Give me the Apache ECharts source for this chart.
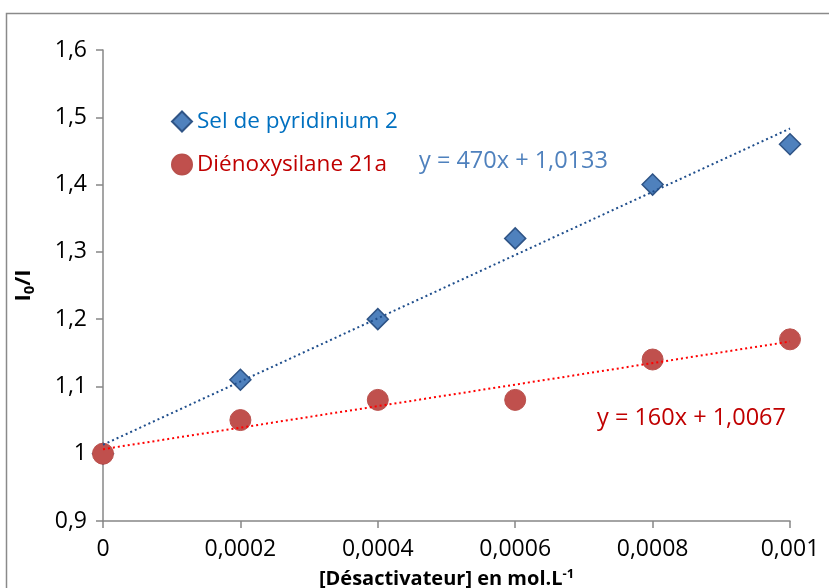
<!DOCTYPE html>
<html>
<head>
<meta charset="utf-8">
<script src="https://cdn.jsdelivr.net/npm/echarts@6/dist/echarts.min.js"></script>
<style>
  html, body { margin: 0; padding: 0; background: #fff; }
  #chart { width: 829px; height: 588px; }
</style>
</head>
<body>
<div id="chart"></div>
<script>
// concentrations du désactivateur (mol.L-1)
var concentrations = [0, 0.0002, 0.0004, 0.0006, 0.0008, 0.001];
var pyridinium = [1.0, 1.11, 1.20, 1.32, 1.40, 1.46];
var dienoxysilane = [1.0, 1.05, 1.08, 1.08, 1.14, 1.17];
// courbes de tendance (extrémités)
var trendX = [0, 0.001];
var trendPyridinium = [1.0133, 1.4833];
var trendDienoxysilane = [1.0067, 1.1667];

var seriesNames = ['Sel de pyridinium 2', 'Diénoxysilane 21a'];
var equations = ['y = 470x + 1,0133', 'y = 160x + 1,0067'];

var FONT = "'Open Sans', sans-serif";
var axisGrey = '#878787';

function pairs(xs, ys) {
    return xs.map(function(x, i) { return [x, ys[i]]; });
}

function frNum(v, digits) {
    var s = (+v.toFixed(digits)).toString();
    return s.replace('.', ',');
}

var chart = echarts.init(document.getElementById('chart'));

var option = {
    animation: false,
    grid: { left: 103, right: 39, top: 50, bottom: 67, containLabel: false, outerBoundsMode: 'none' },
    legend: {
        orient: 'vertical',
        left: 166,
        top: 105,
        itemGap: 20,
        itemWidth: 20,
        itemHeight: 20,
        textStyle: { fontFamily: FONT, fontSize: 22.5 },
        data: [
            { name: seriesNames[0], icon: 'diamond', textStyle: { color: '#0070C0' } },
            { name: seriesNames[1], icon: 'circle', textStyle: { color: '#C00000' } }
        ]
    },
    xAxis: {
        type: 'value',
        min: 0,
        max: 0.001,
        interval: 0.0002,
        splitLine: { show: false },
        axisLine: { onZero: false, lineStyle: { color: axisGrey, width: 1.5 } },
        axisTick: { show: true, length: 7, lineStyle: { color: axisGrey, width: 1.5 } },
        axisLabel: {
            color: '#000', fontFamily: FONT, fontSize: 23, margin: 17,
            formatter: function(v) { return frNum(v, 4); }
        },
        name: '[Désactivateur] en mol.L{sup|-1}',
        nameLocation: 'middle',
        nameGap: 47,
        nameTextStyle: {
            color: '#000', fontFamily: FONT, fontSize: 20, fontWeight: 'bold',
            rich: { sup: { fontFamily: FONT, fontSize: 13, fontWeight: 'bold', verticalAlign: 'top', padding: [0, 0, 10, 0] } }
        }
    },
    yAxis: {
        type: 'value',
        min: 0.9,
        max: 1.6,
        interval: 0.1,
        splitLine: { show: false },
        axisLine: { show: true, lineStyle: { color: axisGrey, width: 1.5 } },
        axisTick: { show: true, length: 7, lineStyle: { color: axisGrey, width: 1.5 } },
        axisLabel: {
            color: '#000', fontFamily: FONT, fontSize: 23, margin: 16,
            formatter: function(v) { return frNum(v, 1); }
        },
        name: 'I{sub|0}/I',
        nameLocation: 'middle',
        nameRotate: 90,
        nameGap: 66,
        nameTextStyle: {
            color: '#000', fontFamily: FONT, fontSize: 22, fontWeight: 'bold',
            rich: { sub: { fontFamily: FONT, fontSize: 15, fontWeight: 'bold', padding: [12, 0, 0, 0] } }
        }
    },
    series: [
        {
            name: seriesNames[0],
            type: 'scatter',
            symbol: 'diamond',
            symbolSize: 21,
            z: 2,
            itemStyle: { color: '#4F81BD', borderColor: '#2F5486', borderWidth: 1.5, opacity: 1 },
            data: pairs(concentrations, pyridinium)
        },
        {
            name: seriesNames[1],
            type: 'scatter',
            symbol: 'circle',
            symbolSize: 21,
            z: 3,
            itemStyle: { color: '#C0504D', borderColor: '#B9504C', borderWidth: 1, opacity: 1 },
            data: pairs(concentrations, dienoxysilane)
        },
        {
            name: 'tendance 1',
            type: 'line',
            showSymbol: false,
            silent: true,
            z: 4,
            lineStyle: { color: '#1F4E8C', width: 2, type: [2, 3] },
            data: pairs(trendX, trendPyridinium)
        },
        {
            name: 'tendance 2',
            type: 'line',
            showSymbol: false,
            silent: true,
            z: 4,
            lineStyle: { color: '#FF0000', width: 2, type: [2, 3] },
            data: pairs(trendX, trendDienoxysilane)
        }
    ],
    graphic: [
        {
            type: 'rect',
            shape: { x: 6.5, y: 13.5, width: 900, height: 700 },
            style: { fill: 'none', stroke: '#8a8a8a', lineWidth: 1.5 },
            z: -1
        },
        {
            type: 'text',
            left: 419,
            top: 149,
            style: { text: equations[0], fill: '#4F81BD', font: '23.5px ' + FONT }
        },
        {
            type: 'text',
            left: 597,
            top: 406,
            style: { text: equations[1], fill: '#C00000', font: '23.5px ' + FONT }
        }
    ]
};

chart.setOption(option);
</script>
</body>
</html>
